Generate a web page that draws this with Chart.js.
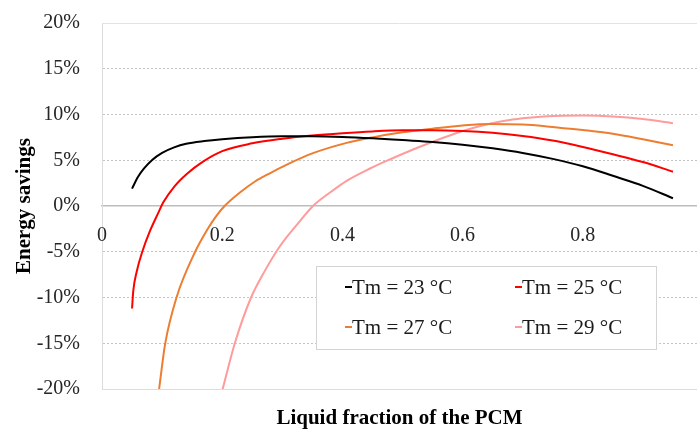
<!DOCTYPE html>
<html>
<head>
<meta charset="utf-8">
<script src="https://cdn.jsdelivr.net/npm/chart.js@4/dist/chart.umd.min.js"></script>
<style>
html,body{margin:0;padding:0;background:#fff;}
#wrap{width:697px;height:431px;position:relative;}
</style>
</head>
<body>
<div id="wrap"><canvas id="c" width="697" height="431"></canvas></div>
<script>
// ---- data ----
const seriesLabels = ["Tm = 23 \u00B0C", "Tm = 25 \u00B0C", "Tm = 27 \u00B0C", "Tm = 29 \u00B0C"];
const xTm23 = [0.05,0.06,0.07,0.083,0.1,0.12,0.14,0.17,0.2,0.25,0.3,0.35,0.4,0.45,0.5,0.55,0.6,0.65,0.7,0.75,0.8,0.85,0.9,0.95];
const yTm23 = [1.9,3.2,4.1,5.0,5.8,6.4,6.8,7.1,7.3,7.52,7.62,7.62,7.55,7.4,7.2,7.0,6.7,6.3,5.8,5.15,4.35,3.3,2.2,0.85];
const xTm25 = [0.05,0.052,0.058,0.067,0.08,0.094,0.102,0.12,0.141,0.168,0.2,0.25,0.3,0.35,0.4,0.45,0.5,0.55,0.6,0.65,0.7,0.75,0.8,0.85,0.9,0.95];
const yTm25 = [-11.2,-9.3,-7.1,-5.0,-2.7,-0.7,0.4,2.1,3.5,4.85,6.0,6.85,7.35,7.7,7.95,8.15,8.27,8.28,8.2,8.0,7.65,7.15,6.45,5.65,4.8,3.75];
const xTm27 = [0.095,0.105,0.124,0.155,0.175,0.19,0.204,0.23,0.254,0.28,0.31,0.35,0.407,0.45,0.5,0.55,0.6,0.645,0.7,0.74,0.8,0.85,0.9,0.95];
const yTm27 = [-20,-15.1,-10,-5,-2.6,-1.1,0,1.5,2.65,3.6,4.6,5.75,6.9,7.5,8.05,8.45,8.8,8.97,8.9,8.7,8.3,7.9,7.3,6.65];
const xTm29 = [0.2,0.221,0.248,0.27,0.296,0.33,0.351,0.38,0.407,0.446,0.476,0.53,0.6,0.645,0.683,0.72,0.767,0.8,0.85,0.9,0.95];
const yTm29 = [-20.2,-15,-10,-7.2,-4.4,-1.6,0,1.5,2.75,4.1,5.0,6.5,8.2,9.0,9.45,9.7,9.85,9.88,9.78,9.5,9.05];
const xTickValues = [0, 0.2, 0.4, 0.6, 0.8];
const xTickLabels = ["0", "0.2", "0.4", "0.6", "0.8"];
const yTickValues = [-20, -15, -10, -5, 0, 5, 10, 15, 20];
const yTickLabels = ["-20%", "-15%", "-10%", "-5%", "0%", "5%", "10%", "15%", "20%"];
const colors = ["#000000", "#FF0000", "#ED7D31", "#FF9B9B"];

const xs = [xTm23, xTm25, xTm27, xTm29];
const ys = [yTm23, yTm25, yTm27, yTm29];
const FONT = "'Liberation Serif', 'Times New Roman', serif";

const datasets = seriesLabels.map((lab, i) => ({
  label: lab,
  data: xs[i].map((x, j) => ({x: x, y: ys[i][j]})),
  borderColor: colors[i],
  backgroundColor: colors[i],
  borderWidth: 2,
  pointRadius: 0,
  fill: false,
  showLine: true,
  cubicInterpolationMode: 'monotone'
}));

const zeroPad = s => { s.paddingTop = 0; s.paddingBottom = 0; s.paddingLeft = 0; s.paddingRight = 0; };

const frame = {
  id: 'frame',
  beforeDatasetsDraw(chart) {
    const a = chart.chartArea, ctx = chart.ctx;
    ctx.save();
    ctx.strokeStyle = '#e3e3e3';
    ctx.lineWidth = 1;
    ctx.beginPath();
    ctx.moveTo(a.left, a.top + 0.5);
    ctx.lineTo(a.right, a.top + 0.5);
    ctx.stroke();
    ctx.restore();
  }
};

// x tick labels sit just under the zero line (axis crosses at 0%)
const xLabels = {
  id: 'xLabels',
  afterDraw(chart) {
    const ctx = chart.ctx, sx = chart.scales.x, sy = chart.scales.y;
    const y0 = sy.getPixelForValue(0);
    ctx.save();
    ctx.font = "20px " + FONT;
    ctx.fillStyle = '#262626';
    ctx.textAlign = 'center';
    ctx.textBaseline = 'middle';
    xTickValues.forEach((v, i) => {
      ctx.fillText(xTickLabels[i], sx.getPixelForValue(v), y0 + 30);
    });
    ctx.restore();
  }
};

const legendBox = {
  id: 'legendBox',
  afterDraw(chart) {
    const ctx = chart.ctx;
    const bx = 316, by = 266, bw = 340, bh = 83;
    ctx.save();
    ctx.fillStyle = '#ffffff';
    ctx.fillRect(bx, by, bw, bh);
    ctx.strokeStyle = '#d4d4d4';
    ctx.lineWidth = 1;
    ctx.strokeRect(bx + 0.5, by + 0.5, bw, bh);
    ctx.font = "21px " + FONT;
    ctx.textBaseline = 'middle';
    ctx.textAlign = 'left';
    const cols = [345, 515], rows = [287, 327];
    chart.data.datasets.forEach((ds, i) => {
      const cx = cols[i % 2], cy = rows[Math.floor(i / 2)];
      ctx.strokeStyle = ds.borderColor;
      ctx.lineWidth = 2;
      ctx.beginPath();
      ctx.moveTo(cx, cy);
      ctx.lineTo(cx + 7, cy);
      ctx.stroke();
      ctx.fillStyle = '#1a1a1a';
      ctx.fillText(ds.label, cx + 7, cy + 1);
    });
    ctx.restore();
  }
};

new Chart(document.getElementById('c'), {
  type: 'scatter',
  data: { datasets: datasets },
  options: {
    responsive: false,
    animation: false,
    events: [],
    layout: { padding: { top: 23, right: 0, bottom: 0, left: 0 } },
    plugins: { legend: { display: false }, tooltip: { enabled: false } },
    scales: {
      x: {
        type: 'linear',
        min: 0,
        max: 0.99,
        position: { y: 0 },
        afterFit: s => { zeroPad(s); s.height = 0; },
        afterBuildTicks: s => { s.ticks = xTickValues.map(v => ({value: v})); },
        grid: { display: false, drawTicks: false },
        border: { display: true, color: '#bdbdbd', width: 1.5 },
        ticks: { display: false }
      },
      x2: {
        type: 'linear',
        axis: 'x',
        min: 0,
        max: 0.99,
        position: 'bottom',
        afterFit: s => { zeroPad(s); s.height = 42; },
        grid: { display: false, drawTicks: false },
        border: { display: true, color: '#dcdcdc', width: 1 },
        ticks: { display: false },
        title: {
          display: true,
          text: 'Liquid fraction of the PCM',
          color: '#000000',
          font: { family: FONT, size: 21, weight: 'bold' },
          padding: { top: 0, bottom: 0 }
        }
      },
      y: {
        type: 'linear',
        min: -20,
        max: 20,
        afterFit: s => { zeroPad(s); s.width = 102; },
        afterBuildTicks: s => { s.ticks = yTickValues.map(v => ({value: v})); },
        grid: {
          drawTicks: false,
          color: (c) => (c.tick && (c.tick.value === 0 || Math.abs(c.tick.value) === 20)) ? 'rgba(0,0,0,0)' : '#c4c4c4',
          lineWidth: 1
        },
        border: { display: true, color: '#dcdcdc', width: 1, dash: [2, 2] },
        ticks: {
          padding: 22,
          color: '#262626',
          font: { family: FONT, size: 20 },
          callback: (v) => { const k = yTickValues.indexOf(v); return k >= 0 ? yTickLabels[k] : ''; }
        },
        title: {
          display: true,
          text: 'Energy savings',
          color: '#000000',
          font: { family: FONT, size: 21, weight: 'bold' },
          padding: { top: 12, bottom: 0 }
        }
      }
    }
  },
  plugins: [frame, xLabels, legendBox]
});
</script>
</body>
</html>
